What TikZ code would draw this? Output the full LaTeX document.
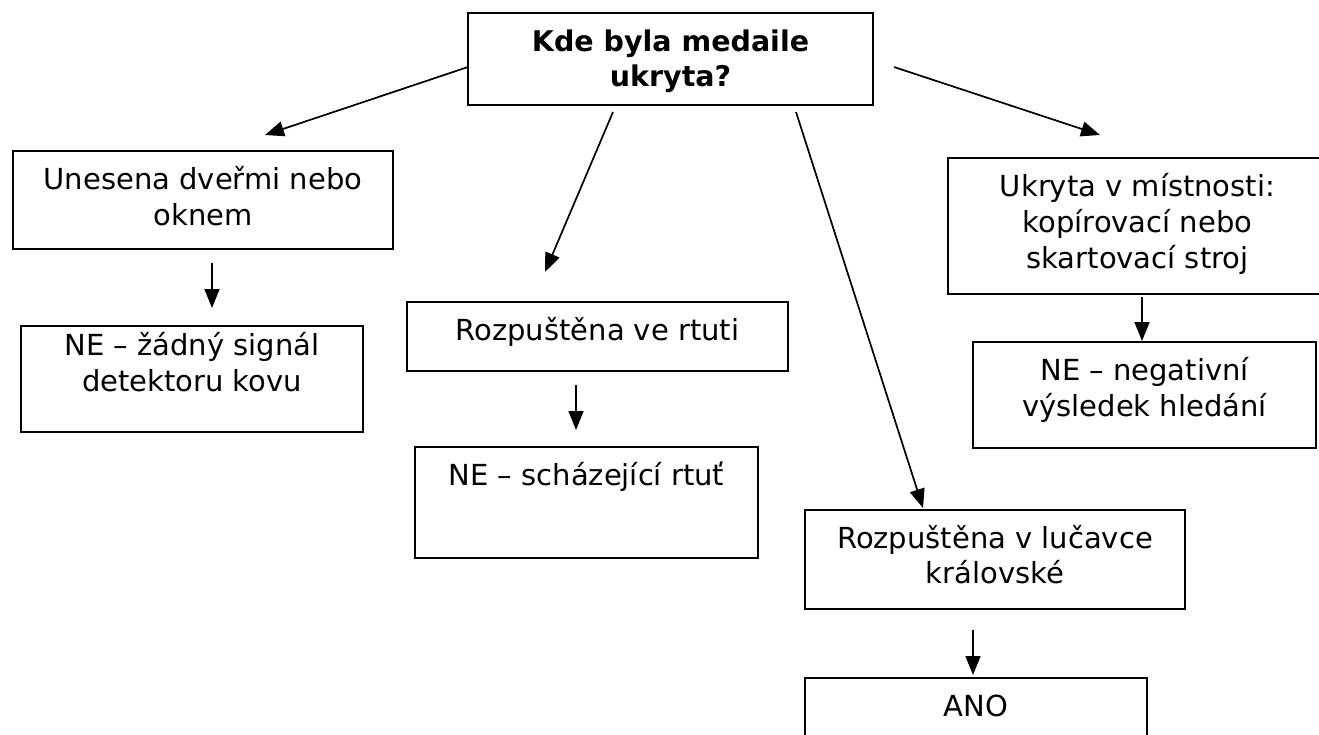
\documentclass[tikz,border=0pt]{standalone}
\usepackage{fontspec}
\setmainfont{DejaVu Sans}
\usetikzlibrary{arrows.meta}
\begin{document}
\begin{tikzpicture}[x=1pt,y=-1pt,
  box/.style={draw=black, line width=2.2pt, rectangle, inner sep=0pt},
  titlebox/.style={box, line width=2.8pt},
  txt/.style={inner sep=0pt, align=center, anchor=base, font=\fontsize{29}{36}\selectfont},
  ttxt/.style={txt, font=\fontsize{28.5}{35}\selectfont\bfseries},
  conn/.style={line width=1.7pt, -{Triangle[length=19pt,width=15pt]}}]
\useasboundingbox (0,0) rectangle (1319,735);
\fill[white] (0,0) rectangle (1319,735);
% boxes
\node[titlebox, minimum width=405pt, minimum height=92pt] (t) at (670.5,59) {};
\node[box, minimum width=380pt, minimum height=98pt] (a) at (203,200) {};
\node[box, minimum width=342pt, minimum height=106pt] (a2) at (192,379) {};
\node[box, minimum width=381pt, minimum height=69pt] (b) at (597.5,336.5) {};
\node[box, minimum width=343pt, minimum height=111pt] (b2) at (586.5,502.5) {};
\node[box, minimum width=380pt, minimum height=99pt] (c) at (995,559.5) {};
\node[box, minimum width=342pt, minimum height=112pt] (c2) at (976,734) {};
\node[box, minimum width=379pt, minimum height=136pt] (d) at (1137.5,226) {};
\node[box, minimum width=343pt, minimum height=106pt] (d2) at (1144.5,395) {};
% texts (base = baseline of last line)
\node[ttxt] (tt) at ([yshift=-75pt]t.north) {Kde byla medaile\\ukryta?};
\node[txt] (at) at ([yshift=-75.7pt]a.north) {Unesena dveřmi nebo\\oknem};
\node[txt] (a2t) at ([yshift=-66.7pt]a2.north) {NE – žádný signál\\detektoru kovu};
\node[txt] (bt) at ([yshift=-39.7pt]b.north) {Rozpuštěna ve rtuti};
\node[txt] (b2t) at ([yshift=-39.7pt]b2.north) {NE – scházející rtuť};
\node[txt, font=\fontsize{29}{35}\selectfont] (ct) at ([yshift=-75pt]c.north) {Rozpuštěna v lučavce\\královské};
\node[txt] (c2t) at ([yshift=-40pt]c2.north) {ANO};
\node[txt] (dt) at ([yshift=-112pt]d.north) {Ukryta v místnosti:\\kopírovací nebo\\skartovací stroj};
\node[txt] (d2t) at ([yshift=-76pt]d2.north) {NE – negativní\\výsledek hledání};
% connector endpoints
\coordinate (s1) at (468,67);   \coordinate (e1) at (265,135);
\coordinate (s2) at (613,112);  \coordinate (e2) at (545,272);
\coordinate (s3) at (796,112);  \coordinate (e3) at (923,508);
\coordinate (s4) at (894,67);   \coordinate (e4) at (1100,135);
\coordinate (sa) at (212,263);  \coordinate (ea) at (212,308);
\coordinate (sb) at (576,385);  \coordinate (eb) at (576,430);
\coordinate (sc) at (973,630);  \coordinate (ec) at (973,675);
\coordinate (sd) at (1142,297); \coordinate (ed) at (1142,341);
\draw[conn] (s1) -- (e1);
\draw[conn] (s2) -- (e2);
\draw[conn] (s3) -- (e3);
\draw[conn] (s4) -- (e4);
\draw[conn] (sa) -- (ea);
\draw[conn] (sb) -- (eb);
\draw[conn] (sc) -- (ec);
\draw[conn] (sd) -- (ed);
\end{tikzpicture}
\end{document}
